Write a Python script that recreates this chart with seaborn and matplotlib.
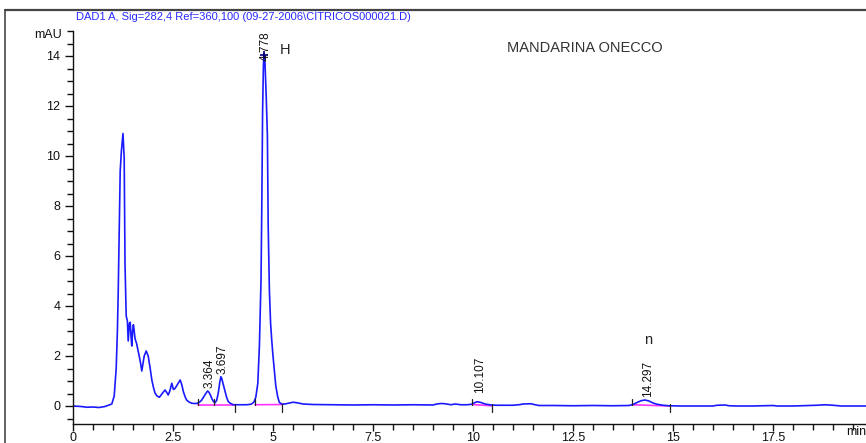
import matplotlib
matplotlib.use("Agg")
import matplotlib.pyplot as plt
from matplotlib.lines import Line2D
from matplotlib.ticker import MultipleLocator
import pandas as pd
import seaborn as sns

# Detector trace: retention time (min) and absorbance (mAU)
time_min = [
    0.0, 0.2, 0.35, 0.5, 0.65, 0.8, 0.9, 0.97, 1.03, 1.08,
    1.11, 1.13, 1.15, 1.18, 1.21, 1.25, 1.28, 1.30, 1.33, 1.36,
    1.38, 1.41, 1.43, 1.45, 1.47, 1.49, 1.51, 1.53, 1.55, 1.59,
    1.64, 1.68, 1.72, 1.75, 1.78, 1.83, 1.88, 1.93, 1.97, 2.01,
    2.05, 2.10, 2.16, 2.23, 2.30, 2.34, 2.38, 2.42, 2.47, 2.51,
    2.55, 2.58, 2.63, 2.68, 2.72, 2.76, 2.80, 2.84, 2.90, 2.97,
    3.03, 3.09, 3.15, 3.21, 3.26, 3.32, 3.364, 3.40, 3.44, 3.47,
    3.51, 3.55, 3.59, 3.63, 3.67, 3.697, 3.72, 3.75, 3.80, 3.84,
    3.88, 3.94, 4.01, 4.15, 4.34, 4.45, 4.52, 4.57, 4.62, 4.66,
    4.70, 4.72, 4.74, 4.76, 4.778, 4.80, 4.83, 4.86, 4.88, 4.91,
    4.94, 4.97, 5.0, 5.04, 5.07, 5.12, 5.16, 5.22, 5.30, 5.42,
    5.5, 5.6, 5.75, 6.0, 6.5, 7.0, 7.5, 8.0, 8.5, 9.0,
    9.1, 9.2, 9.3, 9.45, 9.55, 9.7, 9.85, 9.97, 10.05, 10.107,
    10.2, 10.3, 10.45, 10.6, 11.0, 11.15, 11.25, 11.45, 11.55, 11.65,
    12.0, 12.5, 13.0, 13.5, 13.9, 14.0, 14.1, 14.2, 14.297, 14.4,
    14.5, 14.6, 14.75, 14.9, 15.2, 16.0, 16.1, 16.3, 16.4, 16.6,
    17.0, 17.5, 17.6, 18.0, 18.6, 18.8, 19.0, 19.2, 19.5, 19.9,
]
signal_mau = [
    0.0, -0.02, -0.05, -0.04, -0.06, -0.02, 0.04, 0.08, 0.4, 1.5,
    3.0, 4.5, 6.4, 9.4, 10.2, 10.9, 9.9, 5.7, 3.6, 3.4,
    2.6, 3.3, 3.35, 2.8, 2.4, 3.0, 3.25, 3.0, 2.7, 2.5,
    2.1, 1.8, 1.4, 1.7, 2.0, 2.2, 2.0, 1.5, 1.05, 0.75,
    0.52, 0.4, 0.35, 0.5, 0.64, 0.55, 0.44, 0.6, 0.91, 0.66,
    0.7, 0.78, 0.92, 1.04, 0.85, 0.57, 0.38, 0.24, 0.16, 0.11,
    0.1, 0.1, 0.14, 0.22, 0.35, 0.5, 0.6, 0.55, 0.42, 0.3,
    0.18, 0.13, 0.22, 0.5, 0.95, 1.17, 1.1, 0.9, 0.6, 0.35,
    0.18, 0.1, 0.05, 0.05, 0.05, 0.07, 0.15, 0.35, 0.9, 2.4,
    5.0, 8.0, 11.8, 13.6, 14.1, 13.7, 12.4, 10.8, 7.2, 4.6,
    3.3, 2.6, 2.0, 1.3, 0.8, 0.35, 0.14, 0.08, 0.08, 0.12,
    0.15, 0.13, 0.08, 0.06, 0.05, 0.04, 0.05, 0.04, 0.05, 0.04,
    0.08, 0.1, 0.09, 0.05, 0.08, 0.05, 0.05, 0.07, 0.14, 0.17,
    0.14, 0.08, 0.04, 0.03, 0.03, 0.05, 0.08, 0.09, 0.05, 0.02,
    0.02, 0.01, 0.02, 0.01, 0.02, 0.06, 0.14, 0.21, 0.24, 0.2,
    0.12, 0.07, 0.03, 0.01, 0.0, 0.0, 0.03, 0.04, 0.01, 0.0,
    0.0, 0.02, 0.0, 0.0, 0.03, 0.05, 0.03, 0.0, 0.0, 0.0,
]

# Integrated peaks: retention time, apex height, label text
peak_rt = [3.364, 3.697, 4.778, 10.107, 14.297]
peak_height = [0.6, 1.17, 14.1, 0.17, 0.24]
peak_labels = ["3.364", "3.697", "4.778", "10.107", "14.297"]

# Integration baselines (start/end time and level)
base_t0 = [3.13, 4.55, 9.97, 13.97]
base_t1 = [4.05, 5.23, 10.47, 14.93]
base_y0 = [0.05, 0.05, 0.06, 0.05]
base_y1 = [0.05, 0.06, 0.01, 0.0]

# Integration events: peak start (up) and peak end (down)
event_start = [3.13, 3.53, 4.55, 9.97, 13.97]
event_end = [4.05, 5.23, 10.47, 14.93]

x_ticks = [0, 2.5, 5, 7.5, 10, 12.5, 15, 17.5]
x_tick_labels = ["0", "2.5", "5", "7.5", "10", "12.5", "15", "17.5"]
y_ticks = [0, 2, 4, 6, 8, 10, 12, 14]

sns.set_style("ticks")
plt.rcParams["font.family"] = ["Liberation Sans", "DejaVu Sans"]

trace = pd.DataFrame({"time": time_min, "signal": signal_mau})

W, H = 866, 443
fig = plt.figure(figsize=(W / 100, H / 100), dpi=100)
fig.patch.set_facecolor("white")

left_px, right_px, bottom_px, top_px = 73, 866, 424, 31
ax = fig.add_axes([left_px / W, (H - bottom_px) / H,
                   (right_px - left_px) / W, (bottom_px - top_px) / H])
ax.set_facecolor("white")
ax.set_xlim(0, (right_px - left_px) / 40.0)
ax.set_ylim(-0.72, 15.0)

sns.lineplot(data=trace, x="time", y="signal", ax=ax, color="#1a1aff",
             linewidth=1.2, sort=False, estimator=None)

# integration baselines
for t0, t1, y0, y1 in zip(base_t0, base_t1, base_y0, base_y1):
    ax.plot([t0, t1], [y0, y1], color="#ff33ff", lw=1.2, zorder=1.5)

# event marks
for t in event_start:
    ax.plot([t, t], [0.03, 0.28], color="#222222", lw=0.9)
for t in event_end:
    ax.plot([t, t], [0.07, -0.22], color="#222222", lw=0.9)

# apex marker on main peak
ax.plot([4.778], [14.05], marker="+", color="#000080", ms=6, mew=1.2)

# retention time labels
label_dx = [0.05, 0.05, 0.03, 0.07, 0.08]
label_dy = [0.12, 0.13, -0.3, 0.35, 0.12]
for rt, h, txt, dx, dy in zip(peak_rt, peak_height, peak_labels, label_dx, label_dy):
    ax.text(rt + dx, h + dy, txt, rotation=90, ha="center", va="bottom",
            fontsize=8.5, color="#111111")

ax.text(5.3, 14.25, "H", fontsize=10.5, color="#222222", ha="center", va="center")
ax.text(14.38, 2.65, "n", fontsize=10.5, color="#222222", ha="center", va="center")
ax.text(10.85, 14.3, "MANDARINA ONECCO", fontsize=10.5, color="#333333",
        ha="left", va="center")

# axes styling
for s in ["top", "right"]:
    ax.spines[s].set_visible(False)
for s in ["left", "bottom"]:
    ax.spines[s].set_color("#111111")
    ax.spines[s].set_linewidth(1.0)

ax.set_xticks(x_ticks)
ax.set_xticklabels(x_tick_labels)
ax.xaxis.set_minor_locator(MultipleLocator(0.5))
ax.set_yticks(y_ticks)
ax.yaxis.set_minor_locator(MultipleLocator(0.5))
ax.tick_params(axis="y", which="major", direction="out", length=6, width=1.0,
               color="#111111", labelsize=9, labelcolor="#111111", pad=3)
ax.tick_params(axis="x", which="major", direction="out", length=5, width=1.0,
               color="#111111", labelsize=9, labelcolor="#111111", pad=0.5)
ax.tick_params(axis="both", which="minor", direction="out", length=4, width=1.0,
               color="#111111")
ax.set_xlabel("")
ax.set_ylabel("")

ax.text(-0.28, 14.85, "mAU", fontsize=9, color="#111111", ha="right", va="center")
ax.text(19.33, -1.03, "min", fontsize=9, color="#111111", ha="left", va="center",
        clip_on=False)

# outer frame and signal description
fig.add_artist(Line2D([5 / W, 5 / W], [0, (H - 10) / H], color="#555555", lw=1.3))
fig.add_artist(Line2D([5 / W, 1], [(H - 10) / H, (H - 10) / H], color="#444444", lw=1.6))
fig.text(76 / W, (H - 16) / H,
         "DAD1 A, Sig=282,4 Ref=360,100 (09-27-2006\\CÍTRICOS000021.D)",
         fontsize=8, color="#2a2aff", ha="left", va="center")

fig.savefig("out.png", dpi=100, facecolor="white")
